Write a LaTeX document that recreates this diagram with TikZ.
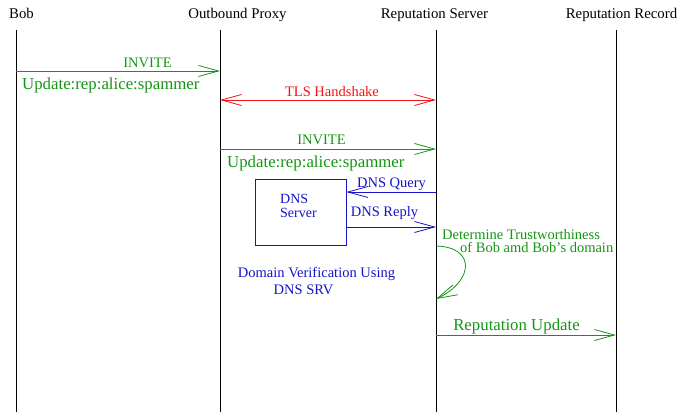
\documentclass[tikz,border=0pt]{standalone}
\usepackage{fontspec}
\setmainfont{Liberation Serif}
\usetikzlibrary{arrows.meta}
\definecolor{msggreen}{RGB}{20,150,20}
\definecolor{msgred}{RGB}{240,20,20}
\definecolor{msgblue}{RGB}{20,20,200}
\tikzset{
  barb/.tip={Straight Barb[length=20pt,width=11pt,line width=0.8pt]},
  lifeline/.style={draw=black, line width=0.9pt},
  header/.style={font=\fontsize{14.8}{17}\selectfont, inner sep=0pt, anchor=base},
  msg/.style={line width=0.8pt, -barb},
  bimsg/.style={line width=0.8pt, barb-barb},
  lbl/.style={font=\fontsize{14.5}{17}\selectfont, inner sep=0pt, anchor=base},
  biglbl/.style={font=\fontsize{16.8}{19}\selectfont, inner sep=0pt, anchor=base west},
}
\begin{document}
\begin{tikzpicture}[x=1pt, y=-1pt]
\useasboundingbox (0,0) rectangle (678,412);

% participant headers
\node[header] (hBob) at (21.5,19) {Bob};
\node[header] (hProxy) at (237.5,19) {Outbound Proxy};
\node[header] (hServer) at (434.5,19) {Reputation Server};
\node[header] (hRecord) at (621.5,19) {Reputation Record};

% lifelines
\coordinate (bobTop) at (16,30);     \coordinate (bobBot) at (16,412);
\coordinate (pxTop) at (220,30);     \coordinate (pxBot) at (220,412);
\coordinate (svTop) at (436,30);     \coordinate (svBot) at (436,412);
\coordinate (rcTop) at (616,30);     \coordinate (rcBot) at (616,412);
\draw[lifeline] (bobTop) -- (bobBot);
\draw[lifeline] (pxTop) -- (pxBot);
\draw[lifeline] (svTop) -- (svBot);
\draw[lifeline] (rcTop) -- (rcBot);

% INVITE from Bob to proxy
\coordinate (m1a) at (16,71);  \coordinate (m1b) at (220,71);
\draw[msg, msggreen] (m1a) -- (m1b);
\node[lbl, text=msggreen] (m1l) at (147.5,67) {INVITE};
\node[biglbl, text=msggreen] (m1u) at (22,90) {Update:rep:alice:spammer};

% TLS handshake
\coordinate (t1a) at (220,100);  \coordinate (t1b) at (436,100);
\draw[bimsg, msgred] (t1a) -- (t1b);
\node[lbl, text=msgred] (t1l) at (332,96) {TLS Handshake};

% INVITE from proxy to reputation server
\coordinate (m2a) at (220,149);  \coordinate (m2b) at (436,149);
\draw[msg, msggreen] (m2a) -- (m2b);
\node[lbl, text=msggreen] (m2l) at (321.5,144) {INVITE};
\node[biglbl, text=msggreen] (m2u) at (227,167) {Update:rep:alice:spammer};

% DNS server box
\node[draw=msgblue, line width=0.8pt, minimum width=91pt, minimum height=66pt, inner sep=0pt] (dns) at (300.5,212) {};
\node[inner sep=0pt, anchor=north west, align=left, text=msgblue,
      font=\fontsize{14}{14}\selectfont] (dnsl) at (280,194) {DNS\\Server};

% DNS query and reply
\coordinate (qa) at (436,192);  \coordinate (qb) at (dns.east |- qa);
\draw[msg, msgblue] (qa) -- (qb);
\node[lbl, text=msgblue] (ql) at (391.5,187) {DNS Query};
\coordinate (ra) at (dns.east |- 0,227);  \coordinate (rb) at (436,227);
\draw[msg, msgblue] (ra) -- (rb);
\node[lbl, text=msgblue] (rl) at (384.5,216) {DNS Reply};

\node[lbl, text=msgblue] (dv1) at (316.5,277) {Domain Verification Using};
\node[lbl, text=msgblue] (dv2) at (303.5,294) {DNS SRV};

% self check at reputation server
\coordinate (sa) at (436,246);  \coordinate (sb) at (436,299);
\draw[msg, msggreen] (sa) .. controls (476,247) and (474,281) .. (sb);
\node[lbl, text=msggreen, anchor=base west] (s1) at (442,239) {Determine Trustworthiness};
\node[lbl, text=msggreen, anchor=base west] (s2) at (460,252) {of Bob amd Bob's domain};

% reputation update
\coordinate (ua) at (436,335);  \coordinate (ub) at (616,335);
\draw[msg, msggreen] (ua) -- (ub);
\node[lbl, text=msggreen, font=\fontsize{16.8}{19}\selectfont] (ul) at (516.5,330) {Reputation Update};
\end{tikzpicture}
\end{document}
